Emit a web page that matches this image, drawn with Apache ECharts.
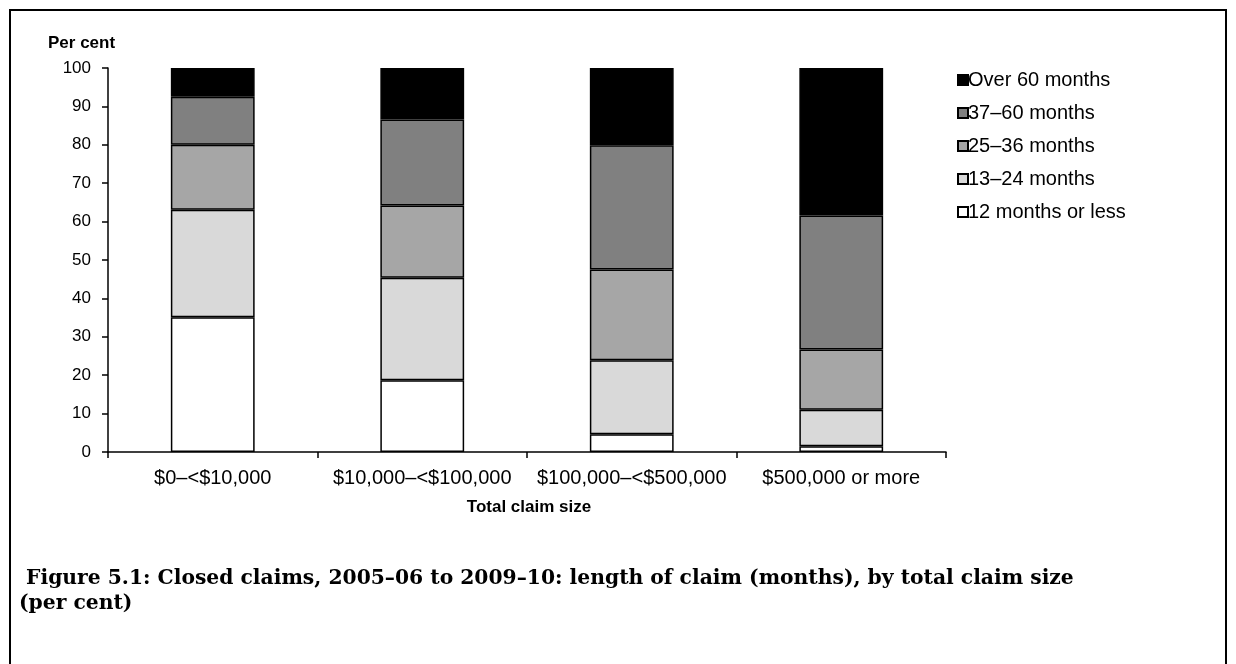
<!DOCTYPE html>
<html><head><meta charset="utf-8">
<script src="https://cdn.jsdelivr.net/npm/echarts@6/dist/echarts.min.js"></script>
<style>
html,body{margin:0;padding:0;background:#fff;}
#frame{position:absolute;left:9px;top:9px;width:1218px;height:680px;border:2px solid #000;box-sizing:border-box;}
#c{position:absolute;left:0;top:0;width:1236px;height:664px;}
</style></head>
<body>
<div id="c"></div>
<div id="frame"></div>
<script>
const categories = ['$0–<$10,000', '$10,000–<$100,000', '$100,000–<$500,000', '$500,000 or more'];
const seriesNames = ['12 months or less', '13–24 months', '25–36 months', '37–60 months', 'Over 60 months'];
const months12orLess = [35.1, 18.7, 4.6, 1.5];
const months13to24 = [28.0, 26.7, 19.3, 9.5];
const months25to36 = [16.9, 18.8, 23.6, 15.7];
const months37to60 = [12.5, 22.4, 32.4, 34.9];
const over60 = [7.5, 13.4, 20.1, 38.4];
const yTicks = [0, 10, 20, 30, 40, 50, 60, 70, 80, 90, 100];

const colors = ['#ffffff', '#d9d9d9', '#a6a6a6', '#808080', '#000000'];
const values = [months12orLess, months13to24, months25to36, months37to60, over60];
const font = 'Liberation Sans, Arial, sans-serif';

const chart = echarts.init(document.getElementById('c'));
chart.setOption({
  animation: false,
  grid: {left: 108, right: 290, top: 68, bottom: 212},
  title: [
    {text: 'Per cent', left: 48, top: 35, padding: 0, textStyle: {fontFamily: font, fontSize: 17, fontWeight: 'bold', color: '#000'}},
    {text: 'Total claim size', left: 529, top: 499, padding: 0, textAlign: 'center', textStyle: {fontFamily: font, fontSize: 17, fontWeight: 'bold', color: '#000'}},
    {text: ' Figure 5.1: Closed claims, 2005–06 to 2009–10: length of claim (months), by total claim size\n(per cent)', left: 19, top: 566, padding: 0,
     textStyle: {fontFamily: 'DejaVu Serif, serif', fontSize: 20.3, fontWeight: 'bold', color: '#000', lineHeight: 25}}
  ],
  legend: {
    orient: 'vertical', left: 957, top: 70, itemWidth: 10, itemHeight: 10, itemGap: 13, padding: 0,
    data: seriesNames.slice().reverse(),
    textStyle: {fontFamily: font, fontSize: 20, color: '#000', padding: [0, 0, 0, -5]},
    icon: 'rect'
  },
  xAxis: {
    type: 'category', data: categories,
    axisLine: {lineStyle: {color: '#000', width: 1.5}},
    axisTick: {show: true, alignWithLabel: false, length: 6, lineStyle: {color: '#000', width: 1.5}},
    axisLabel: {fontFamily: font, fontSize: 20, color: '#000', margin: 16, interval: 0}
  },
  yAxis: {
    type: 'value', min: 0, max: 100, interval: 10,
    axisLine: {show: true, lineStyle: {color: '#000', width: 1.5}},
    axisTick: {show: true, length: 6, lineStyle: {color: '#000', width: 1.5}},
    splitLine: {show: false},
    axisLabel: {fontFamily: font, fontSize: 17, color: '#000', margin: 17,
      formatter: v => yTicks.includes(v) ? String(v) : ''}
  },
  series: seriesNames.map((n, i) => ({
    name: n, type: 'bar', stack: 'total', data: values[i], barWidth: '40%',
    itemStyle: {color: colors[i], borderColor: '#000', borderWidth: 1.5}
  }))
});
</script>
</body></html>
